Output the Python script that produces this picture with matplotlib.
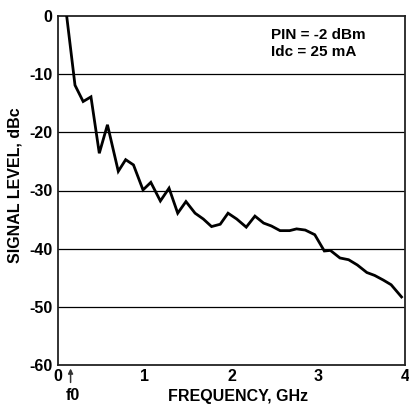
import matplotlib
matplotlib.use("Agg")
import matplotlib.pyplot as plt

# harmonic spectrum
freq_ghz = [0.10, 0.196, 0.29, 0.38, 0.476, 0.57, 0.695, 0.78, 0.87, 0.98,
            1.07, 1.18, 1.28, 1.38, 1.475, 1.58, 1.675, 1.77, 1.87, 1.96,
            2.06, 2.17, 2.27, 2.37, 2.46, 2.56, 2.67, 2.75, 2.85, 2.96,
            3.07, 3.14, 3.25, 3.35, 3.45, 3.56, 3.65, 3.75, 3.84, 3.96]
level_dbc = [0.0, -11.9, -14.7, -13.9, -23.6, -18.7, -26.7, -24.7, -25.6, -29.9,
             -28.6, -31.8, -29.6, -33.9, -31.9, -33.9, -34.9, -36.2, -35.8, -33.9,
             -34.9, -36.3, -34.4, -35.6, -36.1, -36.9, -36.9, -36.6, -36.8, -37.6,
             -40.4, -40.3, -41.6, -41.9, -42.8, -44.1, -44.6, -45.4, -46.2, -48.3]

x_ticks = [0, 1, 2, 3, 4]
y_ticks = [0, -10, -20, -30, -40, -50, -60]
f0_ghz = 0.145
notes = ["PIN = -2 dBm", "Idc = 25 mA"]

plt.rcParams["font.family"] = ["Liberation Sans", "DejaVu Sans"]
plt.rcParams["font.weight"] = "bold"
plt.rcParams["axes.unicode_minus"] = False

W, H = 409, 404
fs = 11.5
fig = plt.figure(figsize=(W / 100, H / 100), dpi=100)
ax = fig.add_axes([58 / W, 39 / H, 347 / W, 349 / H])

for y in y_ticks[1:-1]:
    ax.axhline(y, color="black", lw=0.9, zorder=1)

ax.plot(freq_ghz, level_dbc, color="black", lw=2.0, zorder=3,
        solid_joinstyle="miter")

ax.set_xlim(0, 4)
ax.set_ylim(-60, 0)
ax.set_xticks(x_ticks)
ax.set_yticks(y_ticks)
ax.tick_params(length=0, labelsize=fs)
ax.tick_params(axis="x", pad=3)
ax.tick_params(axis="y", pad=4)
for lbl in ax.get_xticklabels() + ax.get_yticklabels():
    lbl.set_fontweight("bold")
for s in ax.spines.values():
    s.set_linewidth(1.3)
    s.set_color("#222222")

fig.text(238 / W, 1 - 397 / H, "FREQUENCY, GHz", ha="center", va="center",
         fontsize=fs, fontweight="bold")
fig.text(15 / W, 1 - 185 / H, "SIGNAL LEVEL, dBc", ha="center", va="center",
         rotation=90, fontsize=fs, fontweight="bold")

# f0 marker below the axis
ax.annotate("", xy=(f0_ghz, -60.6), xytext=(f0_ghz, -63.0),
            xycoords="data", textcoords="data", annotation_clip=False,
            arrowprops=dict(arrowstyle="-|>", color="#333333", lw=1.1,
                            mutation_scale=7, shrinkA=0, shrinkB=0))
fig.text(73 / W, 1 - 396 / H, "f0", ha="center", va="center",
         fontsize=fs, fontweight="bold")

ax.text(0.615, 0.945, notes[0], transform=ax.transAxes, fontsize=11,
        fontweight="bold", va="center", ha="left")
ax.text(0.615, 0.897, notes[1], transform=ax.transAxes, fontsize=11,
        fontweight="bold", va="center", ha="left")

fig.savefig("out.png", dpi=100)
